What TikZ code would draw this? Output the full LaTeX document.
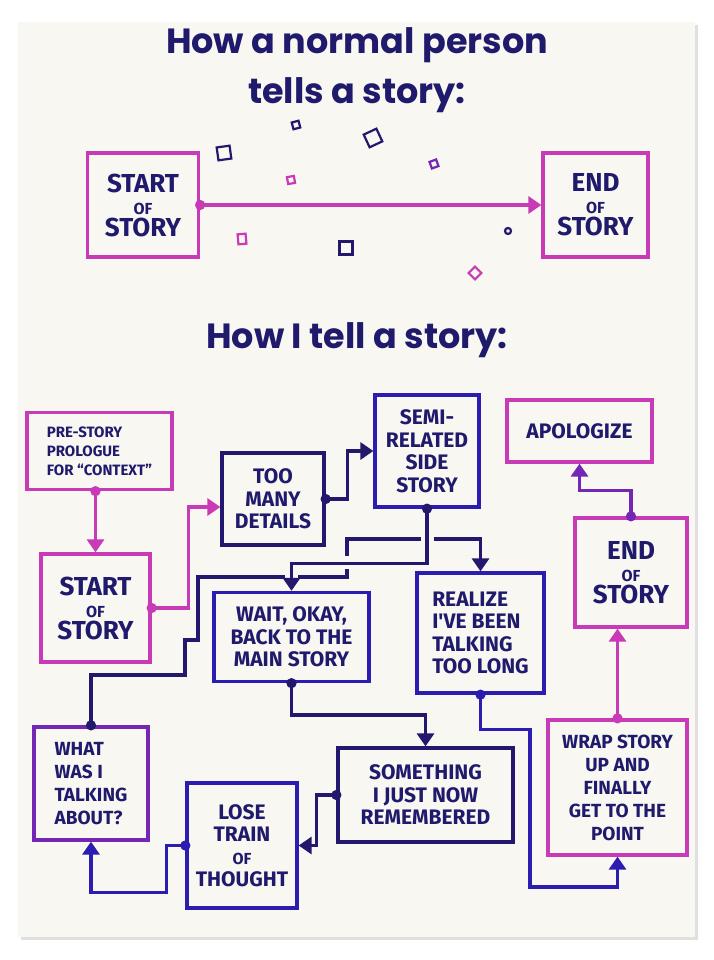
\documentclass[tikz,border=0pt]{standalone}
\usepackage{fontspec}
\usepackage{tikz}
\usetikzlibrary{arrows.meta}
\newfontfamily\handfont{Fira Sans}
\newfontfamily\titlefont{Poppins}
\definecolor{ink}{HTML}{201A6C}
\definecolor{navyln}{HTML}{24186E}
\definecolor{blueln}{HTML}{2B1DB0}
\definecolor{pinkln}{HTML}{C93AB6}
\definecolor{violetln}{HTML}{7426B4}
\definecolor{paper}{HTML}{F8F7F2}
\newcommand{\ofsz}{\fontsize{16}{16}\selectfont}

\begin{document}
\begin{tikzpicture}[x=1pt,y=-1pt,
  every node/.style={text=ink,inner sep=0pt},
  box/.style 2 args={draw,line width=3.3pt,minimum width=#1pt,minimum height=#2pt,align=center},
  bigtxt/.style={font=\handfont\bfseries\fontsize{26}{22}\selectfont},
  midtxt/.style={font=\handfont\bfseries\fontsize{21}{22.5}\selectfont},
  smalltxt/.style={font=\handfont\bfseries\fontsize{19}{23}\selectfont},
  tinytxt/.style={font=\handfont\bfseries\fontsize{15}{19}\selectfont},
  titletxt/.style={font=\titlefont\bfseries\fontsize{35}{44}\selectfont},
  link/.style={line width=3.5pt,shorten <=-5pt,{Circle[length=10pt]}-{Triangle[length=13pt,width=17pt]}},
  halo/.style={paper,line width=13pt},
  deco/.style={line width=2.2pt}]
\useasboundingbox (0,0) rectangle (713,960);
\fill[white] (0,0) rectangle (713,960);
\fill[black!12] (21,25) rectangle (698,940);
\fill[paper] (18,22) rectangle (695,937);

\node[titletxt] (title1) at (357,45) {How a normal person};
\node[titletxt] (title2) at (357,95) {tells a story:};
\node[titletxt] (title3) at (357,340) {How I tell a story:};

\draw[deco,navyln,rotate around={8:(224,153)}] (217.5,146.5) rectangle (230.5,159.5);
\draw[deco,navyln,rotate around={15:(296,125)}] (292.5,121.5) rectangle (299.5,128.5);
\draw[deco,navyln,rotate around={25:(373,138)}] (366,131) rectangle (380,145);
\draw[deco,violetln,rotate around={20:(434,164)}] (430.5,160.5) rectangle (437.5,167.5);
\draw[deco,pinkln,rotate around={10:(291,180)}] (287.5,176.5) rectangle (294.5,183.5);
\draw[deco,pinkln,rotate around={5:(242,239)}] (238,234) rectangle (246,244);
\draw[deco,navyln] (339.5,241.5) rectangle (352.5,254.5);
\draw[deco,pinkln,rotate around={45:(475,273)}] (470.5,268.5) rectangle (479.5,277.5);
\draw[deco,navyln] (508,231) circle (3);

\node[box={111}{104},draw=pinkln,bigtxt] (start1) at (143,205) {START\\{\ofsz OF}\\STORY};
\node[box={105}{104},draw=pinkln,bigtxt] (end1) at (595.5,205) {END\\{\ofsz OF}\\STORY};

\node[box={145}{77},draw=pinkln,tinytxt,align=left] (prestory) at (99.5,451) {PRE-STORY\\PROLOGUE\\FOR “CONTEXT”};
\node[box={109}{108},draw=pinkln,bigtxt] (start2) at (95.5,608) {START\\{\ofsz OF}\\STORY};
\node[box={102}{92},draw=navyln,midtxt] (toomany) at (273,499) {TOO\\MANY\\DETAILS};
\node[box={104}{112},draw=blueln,midtxt] (semi) at (427,451) {SEMI-\\RELATED\\SIDE\\STORY};
\node[box={145}{62},draw=pinkln,midtxt] (apologize) at (579.5,431) {APOLOGIZE};
\node[box={112}{109},draw=pinkln,bigtxt] (end2) at (631,572.5) {END\\{\ofsz OF}\\STORY};
\node[box={155}{89},draw=blueln,midtxt] (wait) at (291.5,637) {WAIT, OKAY,\\BACK TO THE\\MAIN STORY};
\node[box={127}{120},draw=blueln,midtxt,align=left] (realize) at (480.5,633) {REALIZE\\I'VE BEEN\\TALKING\\TOO LONG};
\node[box={114}{113},draw=violetln,smalltxt,align=left] (whatwas) at (91,783.5) {WHAT\\WAS I\\TALKING\\ABOUT?};
\node[box={110}{125},draw=blueln,midtxt] (lose) at (242,845.5) {LOSE\\TRAIN\\{\ofsz OF}\\THOUGHT};
\node[box={175}{94},draw=navyln,midtxt] (something) at (425.5,795) {SOMETHING\\I JUST NOW\\REMEMBERED};
\node[box={139}{135},draw=pinkln,smalltxt] (wrap) at (617.5,787.5) {WRAP STORY\\UP AND\\FINALLY\\GET TO THE\\POINT};

\draw[link,pinkln] (start1.east) -- (end1.west);
\draw[link,pinkln] (prestory.south -| start2.north) -- (start2.north);
\draw[link,pinkln] (start2.east) -- ++(37,0) |- ([yshift=-8pt]toomany.west);
\draw[link,navyln] (toomany.east) -- ++(22,0) |- (semi.west);
\draw[link,navyln] (whatwas.north) |- (185,675) |- (198,640) |- (347,577) |- (480.5,539) -- (realize.north);
\draw[halo] (427,520) |- (291.5,562) -- (291.5,584);
\draw[link,navyln] (semi.south) -- ++(0,55) -| (wait.north);
\draw[link,navyln] (wait.south) -- ++(0,32) -| (something.north);
\draw[link,navyln] (something.west) -- ++(-20,0) |- (lose.east);
\draw[link,blueln] (lose.west) -- ++(-19,0) -- ++(0,47) -| (whatwas.south);
\draw[link,blueln] (realize.south) -- ++(0,35) -| (530,887) -| (wrap.south);
\draw[link,pinkln] (wrap.north) -- (wrap.north |- end2.south);
\draw[link,violetln] (end2.north) -- ++(0,-26) -| (apologize.south);
\end{tikzpicture}
\end{document}
